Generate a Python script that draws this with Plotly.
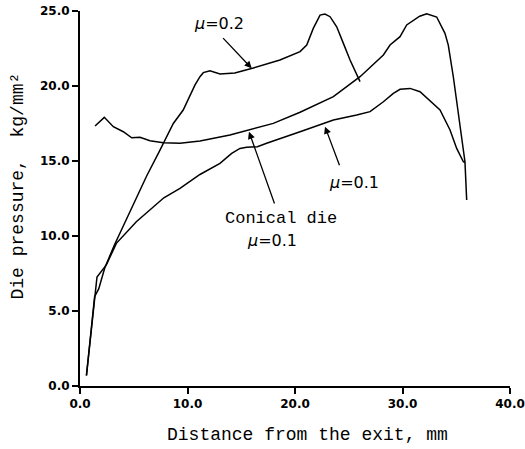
import plotly.graph_objects as go

# ---- data ----
mu02_x = [0.6, 1.36, 1.74, 2.3, 3.2, 5.1, 6.2, 7.44, 8.68, 9.6, 10.23, 10.7, 11.16, 11.47,
          12.09, 12.4, 13.02, 14.4, 16.12, 18.6, 20.47, 21.09, 21.7, 22.33, 22.79, 23.26,
          23.88, 24.5, 25.12, 26.05]
mu02_y = [0.7, 5.95, 6.47, 7.87, 9.4, 12.3, 14.0, 15.73, 17.5, 18.4, 19.4, 20.07, 20.62, 20.89,
          21.02, 20.96, 20.8, 20.87, 21.2, 21.73, 22.29, 22.73, 23.84, 24.73, 24.8, 24.62,
          23.95, 22.84, 21.73, 20.29]

mu01_x = [0.6, 1.36, 1.58, 2.45, 3.38, 5.24, 7.8, 9.3, 11.16, 13.02, 14.11, 14.88, 15.5,
          16.5, 17.36, 20.47, 23.57, 25.74, 26.98, 28.22, 29.15, 29.77, 30.7, 31.63, 32.87,
          33.49, 34.42, 35.04, 35.66, 35.81]
mu01_y = [0.7, 5.95, 7.27, 8.07, 9.51, 10.95, 12.55, 13.18, 14.1, 14.84, 15.51, 15.84, 15.92,
          15.95, 16.18, 16.95, 17.73, 18.07, 18.29, 18.95, 19.51, 19.78, 19.84, 19.62, 18.84,
          18.4, 17.07, 15.84, 14.95, 14.9]

conical_x = [1.4, 2.26, 3.1, 4.03, 4.81, 5.58, 6.51, 7.75, 9.3, 11.16, 13.95, 15.81, 17.98,
             20.47, 23.57, 26.05, 28.22, 28.84, 29.77, 30.39, 31.0, 31.6, 32.25, 33.18, 33.95,
             34.26, 34.73, 35.04, 35.35, 35.81, 35.97]
conical_y = [17.33, 17.91, 17.29, 16.95, 16.55, 16.58, 16.35, 16.22, 16.18, 16.33, 16.73,
             17.07, 17.51, 18.25, 19.29, 20.62, 22.07, 22.73, 23.29, 24.07, 24.35, 24.65, 24.82,
             24.6, 23.51, 22.73, 20.6, 18.9, 17.29, 14.95, 12.4]

x_ticks = [0, 10, 20, 30, 40]
x_tick_labels = ["0.0", "10.0", "20.0", "30.0", "40.0"]
y_ticks = [0, 5, 10, 15, 20, 25]
y_tick_labels = ["0.0", "5.0", "10.0", "15.0", "20.0", "25.0"]

LINE = dict(color="black", width=1.5)

fig = go.Figure()
fig.add_trace(go.Scatter(x=mu02_x, y=mu02_y, mode="lines", line=LINE, name="mu=0.2"))
fig.add_trace(go.Scatter(x=mu01_x, y=mu01_y, mode="lines", line=LINE, name="mu=0.1"))
fig.add_trace(go.Scatter(x=conical_x, y=conical_y, mode="lines", line=LINE,
                         name="Conical die mu=0.1"))

tickfont = dict(family="DejaVu Sans", size=12, color="black", weight="bold")
axis_common = dict(showline=True, linewidth=2, linecolor="black", ticks="outside",
                   ticklen=6, tickwidth=1.5, tickcolor="black", showgrid=False,
                   zeroline=False, tickfont=tickfont, automargin=False)

fig.update_xaxes(range=[0, 40], tickvals=x_ticks, ticktext=x_tick_labels, **axis_common)
fig.update_yaxes(range=[0, 25], tickvals=y_ticks, ticktext=y_tick_labels, **axis_common)

mono = dict(family="Liberation Mono", size=18, color="black")
sans = dict(family="DejaVu Sans", size=16, color="black")

annotations = [
    # axis titles
    dict(text="Distance from the exit, mm", xref="paper", yref="paper", x=0.528, y=-0.13,
         xanchor="center", yanchor="middle", showarrow=False, font=mono),
    dict(text="Die pressure,  kg/mm²", xref="paper", yref="paper", x=-0.1465, y=0.532,
         xanchor="center", yanchor="middle", textangle=-90, showarrow=False, font=mono),
    # labels
    dict(text="<i>μ</i>=0.2", x=12.93, y=24.2, xref="x", yref="y", showarrow=False, font=sans),
    dict(text="<i>μ</i>=0.1", x=25.49, y=13.6, xref="x", yref="y", showarrow=False, font=sans),
    dict(text="Conical die", x=18.7, y=11.2, xref="x", yref="y", showarrow=False,
         font=dict(family="Liberation Mono", size=17, color="black")),
    dict(text="<i>μ</i>=0.1", x=17.9, y=9.67, xref="x", yref="y", showarrow=False, font=sans),
]
# arrows
arrow_style = dict(showarrow=True, arrowhead=2, arrowsize=1.1, arrowwidth=1.3,
                   arrowcolor="black", xref="x", yref="y", axref="x", ayref="y", text="",
                   standoff=0, startstandoff=0)
annotations += [
    dict(x=15.97, y=21.18, ax=13.18, ay=23.29, **arrow_style),
    dict(x=22.79, y=17.29, ax=24.19, ay=14.62, **arrow_style),
    dict(x=15.72, y=16.95, ax=18.14, ay=12.07, **arrow_style),
]

fig.update_layout(width=525, height=449, autosize=False,
                  margin=dict(l=80, r=15, t=11, b=63, autoexpand=False),
                  paper_bgcolor="white", plot_bgcolor="white",
                  showlegend=False, annotations=annotations)

fig.write_html("out.html", config={"displayModeBar": False},
               post_script="document.body.style.margin='0px';")
